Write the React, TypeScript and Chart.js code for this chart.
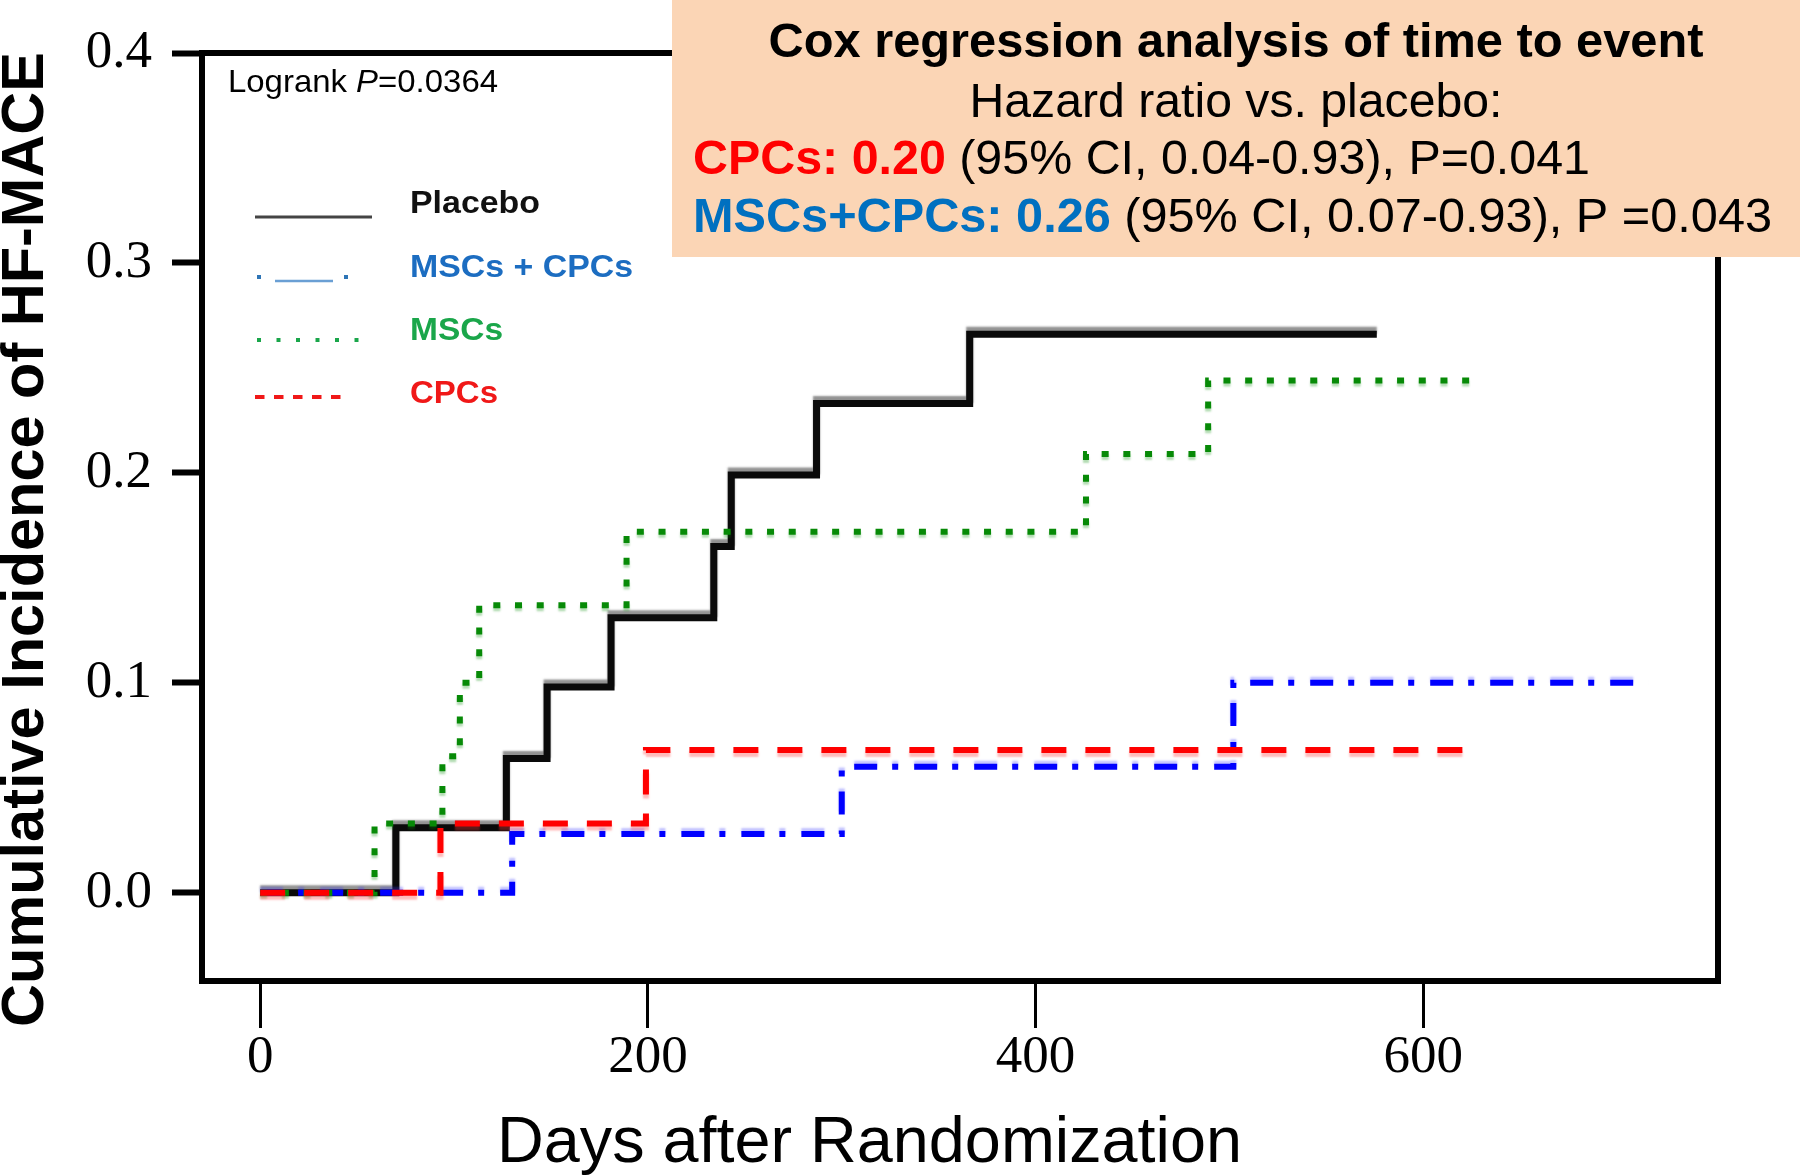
import React, { useEffect, useRef } from "react";
import { Chart, registerables } from "chart.js";

Chart.register(...registerables);

// ---------- data ----------
const xTicks = [0, 200, 400, 600];
const xTickLabels = ["0", "200", "400", "600"];
const yTicks = [0, 0.1, 0.2, 0.3, 0.4];
const yTickLabels = ["0.0", "0.1", "0.2", "0.3", "0.4"];

const seriesNames = ["Placebo", "MSCs + CPCs", "MSCs", "CPCs"];

const placeboDays = [0, 70, 127, 148, 181, 234, 243, 287, 366, 576];
const placeboInc = [0, 0.031, 0.064, 0.098, 0.131, 0.165, 0.199, 0.233, 0.266, 0.266];

const comboDays = [0, 130, 300, 502, 716];
const comboInc = [0, 0.028, 0.06, 0.1, 0.1];

const mscDays = [0, 59, 94, 103, 113, 189, 426, 489, 625];
const mscInc = [0, 0.033, 0.065, 0.1, 0.137, 0.172, 0.209, 0.244, 0.244];

const cpcDays = [0, 93, 199, 621];
const cpcInc = [0, 0.033, 0.068, 0.068];

const logrankText = ["Logrank ", "P", "=0.0364"];
const coxTitle = "Cox regression analysis of time to event";
const coxSub = "Hazard ratio vs. placebo:";
const cpcHrHead = "CPCs: 0.20";
const cpcHrRest = " (95% CI, 0.04-0.93), P=0.041";
const comboHrHead = "MSCs+CPCs: 0.26";
const comboHrRest = " (95% CI, 0.07-0.93), P =0.043";
const xTitle = "Days after Randomization";
const yTitle = "Cumulative Incidence of HF-MACE";

const SANS = "'Liberation Sans', Arial, Helvetica, sans-serif";
const SERIF = "'Liberation Serif', 'Times New Roman', serif";

type Seg = { text: string; font: string; color: string };

function drawFitted(
  ctx: CanvasRenderingContext2D,
  segs: Seg[],
  x: number,
  y: number,
  width: number,
  align: "left" | "center"
) {
  let total = 0;
  const widths = segs.map((s) => {
    ctx.font = s.font;
    const w = ctx.measureText(s.text).width;
    total += w;
    return w;
  });
  const sx = width / total;
  ctx.save();
  const startX = align === "center" ? x - width / 2 : x;
  ctx.translate(startX, y);
  ctx.scale(sx, 1);
  ctx.textAlign = "left";
  ctx.textBaseline = "alphabetic";
  let cx = 0;
  segs.forEach((s, i) => {
    ctx.font = s.font;
    ctx.fillStyle = s.color;
    ctx.fillText(s.text, cx, 0);
    cx += widths[i];
  });
  ctx.restore();
}

const halos: Record<number, { color: string; dy: number }> = {
  0: { color: "rgba(110,110,110,0.75)", dy: -4 },
  1: { color: "rgba(60,60,255,0.3)", dy: -3 },
  2: { color: "rgba(0,140,0,0.3)", dy: 3 },
  3: { color: "rgba(255,60,60,0.35)", dy: 4 },
};

const decorPlugin = {
  id: "kmDecor",
  beforeDatasetDraw(chart: any, args: any) {
    const ctx = chart.ctx as CanvasRenderingContext2D;
    ctx.save();
    const h = halos[args.index];
    if (h) {
      ctx.shadowColor = h.color;
      ctx.shadowBlur = 2;
      ctx.shadowOffsetX = 0;
      ctx.shadowOffsetY = h.dy;
    }
  },
  afterDatasetDraw(chart: any) {
    chart.ctx.restore();
  },
  afterDraw(chart: any) {
    const ctx = chart.ctx as CanvasRenderingContext2D;
    const ca = chart.chartArea;
    ctx.save();

    // plot frame
    ctx.strokeStyle = "#000";
    ctx.lineWidth = 6;
    ctx.setLineDash([]);
    ctx.strokeRect(ca.left, ca.top, ca.right - ca.left, ca.bottom - ca.top);

    // Logrank annotation
    drawFitted(
      ctx,
      [
        { text: logrankText[0], font: `32px ${SANS}`, color: "#000" },
        { text: logrankText[1], font: `italic 32px ${SANS}`, color: "#000" },
        { text: logrankText[2], font: `32px ${SANS}`, color: "#000" },
      ],
      228,
      92,
      270,
      "left"
    );

    // legend
    const legendColors = ["#111111", "#1c6dc1", "#1aa64a", "#f01818"];
    const legendBase = [213, 277, 340, 403];
    const legendWidths = [130, 223, 93, 88];
    seriesNames.forEach((n, i) => {
      drawFitted(
        ctx,
        [{ text: n, font: `bold 32px ${SANS}`, color: legendColors[i] }],
        410,
        legendBase[i],
        legendWidths[i],
        "left"
      );
    });
    // Placebo symbol
    ctx.lineCap = "butt";
    ctx.strokeStyle = "#444";
    ctx.lineWidth = 3;
    ctx.beginPath();
    ctx.moveTo(255, 217);
    ctx.lineTo(372, 217);
    ctx.stroke();
    // MSCs + CPCs symbol
    ctx.fillStyle = "#2e75b6";
    ctx.fillRect(257, 275, 4, 4);
    ctx.fillRect(344, 275, 4, 4);
    ctx.strokeStyle = "#6a9fd4";
    ctx.lineWidth = 2.5;
    ctx.beginPath();
    ctx.moveTo(275, 281);
    ctx.lineTo(333, 281);
    ctx.stroke();
    // MSCs symbol
    ctx.strokeStyle = "#1aa64a";
    ctx.lineWidth = 4;
    ctx.setLineDash([4, 15.5]);
    ctx.beginPath();
    ctx.moveTo(257, 340);
    ctx.lineTo(362, 340);
    ctx.stroke();
    // CPCs symbol
    ctx.strokeStyle = "#f01818";
    ctx.lineWidth = 4;
    ctx.setLineDash([9.5, 9.5]);
    ctx.beginPath();
    ctx.moveTo(255, 397);
    ctx.lineTo(350, 397);
    ctx.stroke();
    ctx.setLineDash([]);

    // axis titles
    drawFitted(ctx, [{ text: xTitle, font: `65px ${SANS}`, color: "#000" }], 497, 1162, 745, "left");
    ctx.save();
    ctx.translate(43, 539.5);
    ctx.rotate(-Math.PI / 2);
    drawFitted(ctx, [{ text: yTitle, font: `bold 59px ${SANS}`, color: "#000" }], 0, 0, 975, "center");
    ctx.restore();

    // Cox regression box
    ctx.fillStyle = "#FBD5B5";
    ctx.fillRect(672, 0, 1128, 257);
    drawFitted(ctx, [{ text: coxTitle, font: `bold 48px ${SANS}`, color: "#000" }], 1236, 57, 935, "center");
    drawFitted(ctx, [{ text: coxSub, font: `48px ${SANS}`, color: "#000" }], 1236, 117, 533, "center");
    drawFitted(
      ctx,
      [
        { text: cpcHrHead, font: `bold 48px ${SANS}`, color: "#ff0000" },
        { text: cpcHrRest, font: `48px ${SANS}`, color: "#000" },
      ],
      693,
      174,
      897,
      "left"
    );
    drawFitted(
      ctx,
      [
        { text: comboHrHead, font: `bold 48px ${SANS}`, color: "#0070c0" },
        { text: comboHrRest, font: `48px ${SANS}`, color: "#000" },
      ],
      693,
      232,
      1079,
      "left"
    );

    ctx.restore();
  },
};

function toPoints(days: number[], vals: number[]) {
  return days.map((d, i) => ({ x: d, y: vals[i] }));
}

export default function App() {
  const canvasRef = useRef<HTMLCanvasElement | null>(null);

  useEffect(() => {
    const canvas = canvasRef.current;
    if (!canvas) return;
    const chart = new Chart(canvas, {
      type: "line",
      data: {
        datasets: [
          {
            label: seriesNames[0],
            data: toPoints(placeboDays, placeboInc),
            borderColor: "#0a0a0a",
            borderWidth: 7,
            stepped: true,
            pointRadius: 0,
            fill: false,
            borderCapStyle: "butt",
            order: 4,
          },
          {
            label: seriesNames[1],
            data: toPoints(comboDays, comboInc),
            borderColor: "#0000ff",
            borderWidth: 6,
            borderDash: [23, 15, 6, 16],
            stepped: true,
            pointRadius: 0,
            fill: false,
            borderCapStyle: "butt",
            order: 3,
          },
          {
            label: seriesNames[2],
            data: toPoints(mscDays, mscInc),
            borderColor: "#078a07",
            borderWidth: 6,
            borderDash: [7, 14.7],
            stepped: true,
            pointRadius: 0,
            fill: false,
            borderCapStyle: "butt",
            order: 2,
          },
          {
            label: seriesNames[3],
            data: toPoints(cpcDays, cpcInc),
            borderColor: "#ff0000",
            borderWidth: 6,
            borderDash: [25, 19],
            stepped: true,
            pointRadius: 0,
            fill: false,
            borderCapStyle: "butt",
            order: 1,
          },
        ],
      },
      options: {
        responsive: false,
        devicePixelRatio: 1,
        animation: false,
        layout: { padding: { left: 0, right: 82, top: 53, bottom: 0 } },
        plugins: {
          legend: { display: false },
          tooltip: { enabled: false },
          title: { display: false },
        },
        scales: {
          x: {
            type: "linear",
            min: -30,
            max: 752,
            afterFit: (scale: any) => {
              scale.height = 195;
            },
            afterBuildTicks: (scale: any) => {
              scale.ticks = xTicks.map((v) => ({ value: v }));
            },
            border: { display: false },
            grid: {
              display: true,
              drawOnChartArea: false,
              drawTicks: true,
              tickLength: 47,
              tickWidth: 3,
              tickColor: "#000",
            },
            ticks: {
              autoSkip: false,
              maxRotation: 0,
              padding: 4,
              color: "#000",
              font: { family: SERIF, size: 53, lineHeight: 1 },
              callback: (_v: any, i: number) => xTickLabels[i],
            },
          },
          y: {
            type: "linear",
            min: -0.042,
            max: 0.4,
            afterFit: (scale: any) => {
              scale.width = 202;
            },
            afterBuildTicks: (scale: any) => {
              scale.ticks = yTicks.map((v) => ({ value: v }));
            },
            border: { display: false },
            grid: {
              display: true,
              drawOnChartArea: false,
              drawTicks: true,
              tickLength: 30,
              tickWidth: 6,
              tickColor: "#000",
            },
            ticks: {
              autoSkip: false,
              padding: 20,
              color: "#000",
              font: { family: SERIF, size: 53, lineHeight: 1 },
              callback: (_v: any, i: number) => yTickLabels[i],
            },
          },
        },
      } as any,
      plugins: [decorPlugin as any],
    });
    return () => chart.destroy();
  }, []);

  return (
    <div style={{ position: "absolute", left: 0, top: 0, width: 1800, height: 1176, background: "#fff" }}>
      <canvas ref={canvasRef} width={1800} height={1176} style={{ width: 1800, height: 1176, display: "block" }} />
    </div>
  );
}
